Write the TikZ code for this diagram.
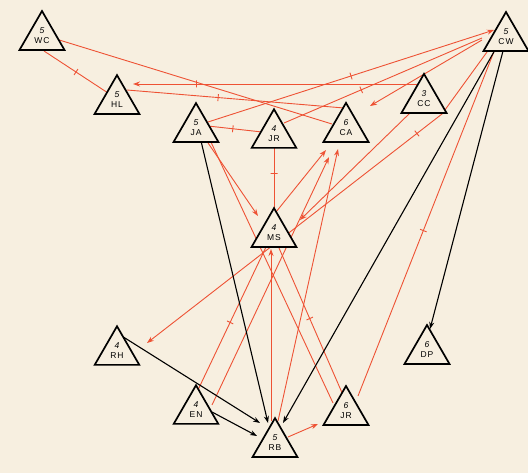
\documentclass[tikz,border=0pt]{standalone}
\usepackage{fontspec}
\setsansfont{Liberation Sans}
\usetikzlibrary{shapes.geometric,arrows.meta}
\definecolor{bgc}{RGB}{247,239,224}
\definecolor{rl}{RGB}{238,82,52}
\pgfdeclarelayer{back}
\pgfdeclarelayer{lines}
\pgfsetlayers{back,lines,main}
\newcommand\lbl[2]{\raisebox{3pt}{\shortstack{\itshape #1\\[0.5pt]#2}}}
\tikzset{
 person/.style={regular polygon, regular polygon sides=3, draw=black, fill=bgc, line width=1.7pt, minimum size=42pt, inner sep=0pt, font=\sffamily\fontsize{8.5}{9}\selectfont},
 redl/.style={draw=rl, line width=0.9pt},
 redarr/.style={redl, -{Stealth[length=7pt,width=5pt]}},
 blkarr/.style={draw=black, line width=1.1pt, -{Stealth[length=7pt,width=5pt]}},
 tk/.style={sloped, draw=rl, line width=0.9pt, rectangle, minimum width=0pt, minimum height=7pt, inner sep=0pt},
}
\begin{document}
\begin{tikzpicture}[x=1pt,y=-1pt]
\begin{pgfonlayer}{back}
\fill[bgc] (0,0) rectangle (528,473);
\end{pgfonlayer}
\useasboundingbox (0,0) rectangle (528,473);
\node[person] (WC) at (42,37) {\lbl{5}{W\kern1pt C}};
\node[person] (HL) at (117,101) {\lbl{5}{H\kern1pt L}};
\node[person] (JA) at (196,129) {\lbl{5}{J\kern1pt A}};
\node[person] (JRt) at (274,135) {\lbl{4}{J\kern1pt R}};
\node[person] (CA) at (346,129) {\lbl{6}{C\kern1pt A}};
\node[person] (CC) at (424,100) {\lbl{3}{C\kern1pt C}};
\node[person] (CW) at (506,38) {\lbl{5}{C\kern1pt W}};
\node[person] (MS) at (274,234) {\lbl{4}{M\kern1pt S}};
\node[person] (RH) at (117,352) {\lbl{4}{R\kern1pt H}};
\node[person] (DP) at (427,351) {\lbl{6}{D\kern1pt P}};
\node[person] (EN) at (196,411) {\lbl{4}{E\kern1pt N}};
\node[person] (RB) at (275,444) {\lbl{5}{R\kern1pt B}};
\node[person] (JRb) at (346,412) {\lbl{6}{J\kern1pt R}};
\begin{pgfonlayer}{lines}
\draw[redl] ([shift={(2,14)}]WC.center) -- node[tk,pos=0.5]{} ([shift={(-9,-8)}]HL.center);
\draw[redl] ([shift={(14,2)}]WC.center) -- ([shift={(-14,-5)}]CA.center);
\draw[redarr] ([shift={(-4,-16)}]CC.center) -- node[tk,pos=0.78]{} ([shift={(16,-17)}]HL.center);
\draw[redl] ([shift={(10,-11)}]HL.center) -- node[tk,pos=0.42]{} ([shift={(-2,-21)}]CA.center);
\draw[redarr] ([shift={(12,-7)}]JA.center) -- node[tk,pos=0.5]{} ([shift={(-12,-8)}]CW.center);
\draw[redl] ([shift={(10,-12)}]JRt.center) -- node[tk,pos=0.39]{} ([shift={(-24,0)}]CW.center);
\draw[redarr] ([shift={(-24,2)}]CW.center) -- ([shift={(24,-23)}]CA.center);
\draw[redl] ([shift={(12,-3)}]JA.center) -- node[tk,pos=0.46]{} ([shift={(-12,-3)}]JRt.center);
\draw[redl] ([shift={(0,11)}]JRt.center) -- node[tk,pos=0.42]{} ([shift={(0,-22)}]MS.center);
\draw[redarr] ([shift={(10,11)}]JA.center) -- ([shift={(-16,-18)}]MS.center);
\draw[redarr] ([shift={(2,-22)}]MS.center) -- ([shift={(-20,21)}]CA.center);
\draw[redarr] ([shift={(16,-6)}]EN.center) -- ([shift={(-17,28)}]CA.center);
\draw[redl] ([shift={(1,-19)}]EN.center) -- node[tk,pos=0.48]{} ([shift={(-8,13)}]MS.center);
\draw[redarr] ([shift={(-4,-23)}]RB.center) -- ([shift={(-3,15)}]MS.center);
\draw[redarr] ([shift={(3,-23)}]RB.center) -- ([shift={(-8,20)}]CA.center);
\draw[redl] ([shift={(14,11)}]JA.center) -- ([shift={(-13,-9)}]JRb.center);
\draw[redl] ([shift={(-3,-17)}]JRb.center) -- node[tk,pos=0.52]{} ([shift={(5,14)}]MS.center);
\draw[redl] ([shift={(12,-16)}]JRb.center) -- node[tk,pos=0.47]{} ([shift={(-9,6)}]CW.center);
\draw[redarr] ([shift={(13,-7)}]RB.center) -- ([shift={(-28,12)}]JRb.center);
\draw[redarr] ([shift={(-19,14)}]CW.center) -- ([shift={(18,14)}]CC.center) -- node[tk,pos=0.085]{} ([shift={(30,-9)}]RH.center);
\draw[redarr] ([shift={(-14,13)}]CC.center) -- ([shift={(26,-14)}]MS.center);
\draw[blkarr] ([shift={(5,12)}]JA.center) -- ([shift={(-7,-21)}]RB.center);
\draw[blkarr] ([shift={(-11,12)}]CW.center) -- ([shift={(8,-21)}]RB.center);
\draw[blkarr] ([shift={(-3,13)}]CW.center) -- ([shift={(3,-22)}]DP.center);
\draw[blkarr] ([shift={(0,-19)}]RH.center) -- ([shift={(-15,-21)}]RB.center);
\draw[blkarr] ([shift={(16,1)}]EN.center) -- ([shift={(-18,-8)}]RB.center);
\end{pgfonlayer}
\end{tikzpicture}
\end{document}
